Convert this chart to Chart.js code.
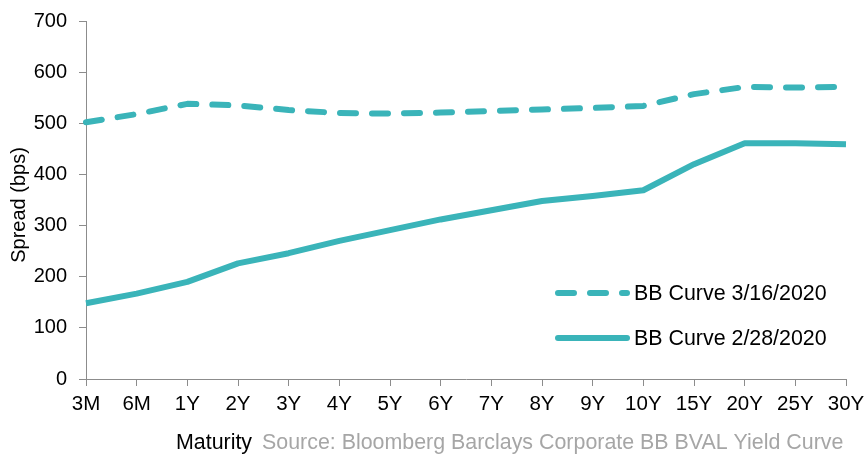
<!DOCTYPE html>
<html>
<head>
<meta charset="utf-8">
<script src="https://cdn.jsdelivr.net/npm/chart.js@4/dist/chart.umd.min.js"></script>
<style>
  html, body { margin: 0; padding: 0; background: #ffffff; }
  #wrap { width: 865px; height: 455px; }
</style>
</head>
<body>
<div id="wrap"><canvas id="c" width="865" height="455"></canvas></div>
<script>
// Maturity buckets along the curve
const maturities = ['3M', '6M', '1Y', '2Y', '3Y', '4Y', '5Y', '6Y', '7Y', '8Y', '9Y', '10Y', '15Y', '20Y', '25Y', '30Y'];
// Option-adjusted spreads in bps
const curve0316 = [502, 518, 538, 535, 526, 520, 519, 521, 524, 527, 530, 534, 557, 571, 570, 571];
const curve0228 = [148, 167, 190, 226, 246, 270, 291, 312, 330, 348, 358, 369, 420, 461, 461, 459];
const seriesNames = ['BB Curve 3/16/2020', 'BB Curve 2/28/2020'];
const yTicks = [0, 100, 200, 300, 400, 500, 600, 700];

const TEAL = '#3ab4b9';
const AXIS = '#8c8c8c';
const FONT = '"Liberation Sans", Arial, sans-serif';

// Axis titles, source note and the in-plot legend
const annotations = {
  id: 'annotations',
  afterDraw(chart) {
    const ctx = chart.ctx;
    const area = chart.chartArea;
    ctx.save();

    // y-axis title
    ctx.fillStyle = '#000000';
    ctx.font = '20px ' + FONT;
    ctx.textAlign = 'center';
    ctx.textBaseline = 'middle';
    ctx.translate(19, (area.top + area.bottom) / 2 + 5);
    ctx.rotate(-Math.PI / 2);
    ctx.fillText('Spread (bps)', 0, 0);
    ctx.setTransform(1, 0, 0, 1, 0, 0);

    // x-axis title and source
    ctx.font = '21.4px ' + FONT;
    ctx.textAlign = 'left';
    ctx.textBaseline = 'alphabetic';
    ctx.fillStyle = '#000000';
    ctx.fillText('Maturity', 176, 449);
    ctx.fillStyle = '#a6a6a6';
    ctx.fillText('Source: Bloomberg Barclays Corporate BB BVAL Yield Curve', 262, 449);

    // legend
    const rows = [{ ds: chart.data.datasets[0], y: 293 }, { ds: chart.data.datasets[1], y: 338 }];
    rows.forEach(r => {
      ctx.strokeStyle = r.ds.borderColor;
      ctx.lineWidth = r.ds.borderWidth;
      ctx.lineCap = 'round';
      ctx.setLineDash(r.ds.borderDash || []);
      ctx.beginPath();
      ctx.moveTo(558, r.y);
      ctx.lineTo(627, r.y);
      ctx.stroke();
      ctx.setLineDash([]);
      ctx.fillStyle = '#000000';
      ctx.textBaseline = 'middle';
      ctx.textAlign = 'left';
      ctx.fillText(r.ds.label, 634, r.y + 1);
    });
    ctx.restore();
  }
};

new Chart(document.getElementById('c'), {
  type: 'line',
  data: {
    labels: maturities,
    datasets: [
      {
        label: seriesNames[0],
        data: curve0316,
        borderColor: TEAL,
        borderWidth: 6,
        borderDash: [16, 16],
        borderCapStyle: 'round',
        borderJoinStyle: 'round',
        pointRadius: 0,
        tension: 0,
        fill: false
      },
      {
        label: seriesNames[1],
        data: curve0228,
        borderColor: TEAL,
        borderWidth: 6,
        borderCapStyle: 'butt',
        borderJoinStyle: 'round',
        pointRadius: 0,
        tension: 0,
        fill: false
      }
    ]
  },
  options: {
    responsive: false,
    devicePixelRatio: 1,
    animation: false,
    layout: { padding: { top: 21, right: 19, left: 0, bottom: 0 } },
    plugins: {
      legend: { display: false },
      tooltip: { enabled: false }
    },
    scales: {
      x: {
        type: 'category',
        offset: false,
        grid: { drawOnChartArea: false, drawTicks: true, tickLength: 7, color: AXIS, lineWidth: 1 },
        border: { color: AXIS, width: 1 },
        ticks: {
          autoSkip: false, maxRotation: 0, minRotation: 0, padding: 6,
          color: '#000000', font: { family: FONT, size: 20.5 }
        },
        afterFit(s) { s.height = 76; s.paddingLeft = 0; s.paddingRight = 0; }
      },
      y: {
        min: 0,
        max: 700,
        afterBuildTicks(s) { s.ticks = yTicks.map(v => ({ value: v })); },
        grid: { drawOnChartArea: false, drawTicks: true, tickLength: 7, color: AXIS, lineWidth: 1 },
        border: { color: AXIS, width: 1 },
        ticks: {
          padding: 12,
          color: '#000000', font: { family: FONT, size: 20 }
        },
        afterFit(s) { s.width = 86; s.paddingTop = 0; s.paddingBottom = 0; }
      }
    }
  },
  plugins: [annotations]
});
</script>
</body>
</html>
